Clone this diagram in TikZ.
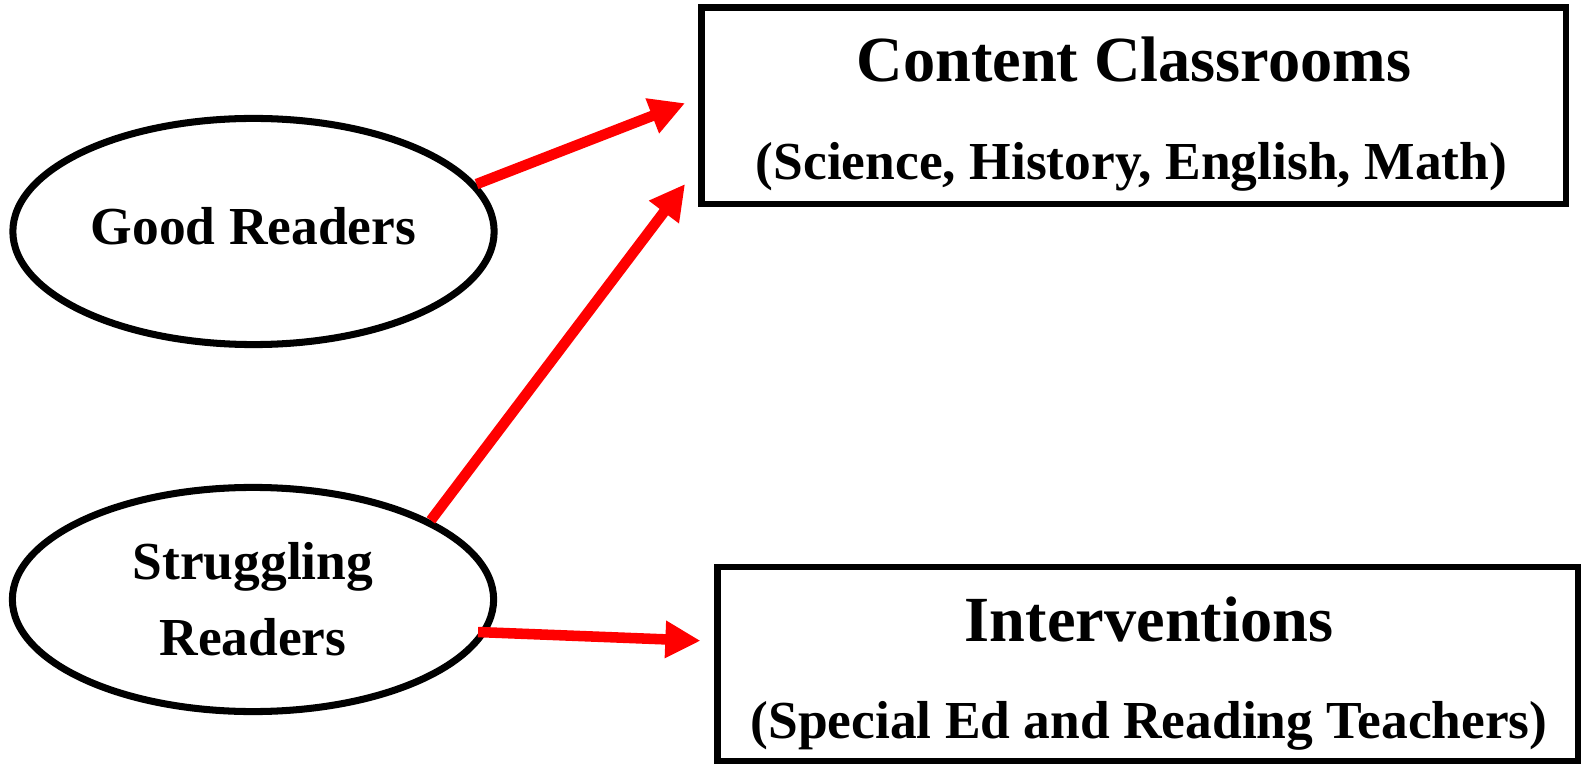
\documentclass[tikz,border=0pt]{standalone}
\usepackage{fontspec}
\setmainfont{Liberation Serif}
\usetikzlibrary{shapes.geometric, arrows.meta}
\tikzstyle{reader}=[ellipse, draw, line width=2pt, inner sep=0pt, minimum width=4.81cm, minimum height=2.26cm, align=center, font=\bfseries\fontsize{15.2}{21.5}\selectfont]
\tikzstyle{place}=[rectangle, draw, line width=1.85pt, inner sep=0pt]
\tikzstyle{title}=[anchor=base, inner sep=0pt, font=\bfseries\fontsize{18.3}{22}\selectfont]
\tikzstyle{subtitle}=[anchor=base, inner sep=0pt, font=\bfseries\fontsize{15.2}{18}\selectfont]
\tikzstyle{link}=[red, line width=3pt, -{Triangle[length=10pt,width=10pt]}]

\begin{document}
\begin{tikzpicture}[x=0.01cm, y=-0.01cm]
\useasboundingbox (0,0) rectangle (1582,764);
% readers
\node[reader, text depth=3pt] (good) at (253.5,231.5) {Good Readers};
\node[reader, minimum height=2.24cm] (strug) at (253,599.5) {Struggling\\Readers};
% places
\node[place, minimum width=8.64cm, minimum height=1.965cm] (content) at (1133.5,105.75) {};
\node[title] (contenttitle) at (1134,82) {Content Classrooms};
\node[subtitle] (contentsub) at (1131.5,180) {(Science, History, English, Math)};
\node[place, minimum width=8.6cm, minimum height=1.94cm] (interv) at (1147.5,664) {};
\node[title] (intervtitle) at (1149,641.7) {Interventions};
\node[subtitle] (intervsub) at (1149,738.3) {(Special Ed and Reading Teachers)};
% arrows
\draw[link, shorten >=0.139cm] (good.12.6) -- (content.179);
\draw[link, shorten >=0.214cm] (strug.24.7) -- (content.188);
\draw[link, shorten <=-0.09cm, shorten >=0.135cm] (strug.-8.3) -- (interv.177.9);
\end{tikzpicture}
\end{document}
